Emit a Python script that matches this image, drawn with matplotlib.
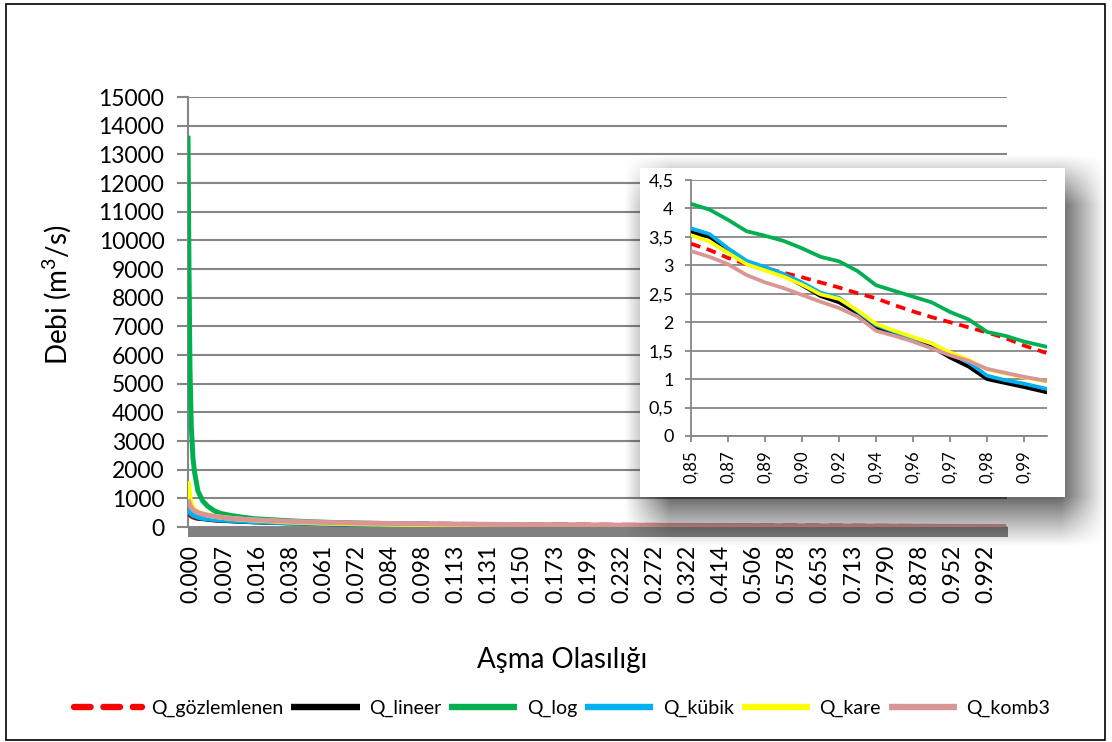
import numpy as np
import matplotlib
matplotlib.use("Agg")
import matplotlib.pyplot as plt
from matplotlib.patches import Rectangle

plt.rcParams['font.family'] = ['Lato', 'DejaVu Sans']
plt.rcParams['mathtext.default'] = 'regular'

# ---- main chart data (x = category position in label intervals) ----
main_pos = [0, 0.03, 0.06, 0.1, 0.15, 0.2, 0.3, 0.45, 0.6, 0.8, 1.0, 1.3, 1.6, 2,
            3, 4, 5, 6, 8, 10, 12, 14, 16, 18, 20, 22, 24.7]
q_gozlem = [520, 470, 420, 380, 350, 330, 300, 280, 265, 250, 240, 225, 210, 195,
            165, 140, 125, 110, 95, 80, 68, 55, 45, 36, 28, 20, 10]
q_lineer = [600, 520, 470, 430, 390, 360, 320, 290, 270, 250, 235, 215, 200, 180,
            145, 120, 100, 85, 65, 50, 40, 30, 22, 15, 10, 6, 2]
q_log = [13650, 9000, 5500, 3500, 2400, 1900, 1250, 900, 720, 560, 470, 400, 350, 290,
         220, 170, 140, 120, 90, 70, 55, 40, 30, 20, 15, 10, 4]
q_kubik = [650, 560, 500, 450, 410, 380, 340, 305, 280, 260, 245, 225, 205, 185,
           150, 122, 102, 88, 68, 52, 42, 32, 23, 16, 11, 7, 2]
q_kare = [1600, 1350, 1000, 800, 680, 600, 520, 460, 410, 370, 340, 300, 270, 240,
          180, 140, 115, 100, 75, 60, 45, 35, 25, 18, 12, 8, 3]
q_komb3 = [950, 850, 760, 680, 600, 560, 500, 450, 410, 370, 340, 300, 275, 250,
           200, 165, 140, 125, 100, 85, 72, 60, 50, 40, 32, 25, 15]
main_labels = ["0.000", "0.007", "0.016", "0.038", "0.061", "0.072", "0.084", "0.098",
               "0.113", "0.131", "0.150", "0.173", "0.199", "0.232", "0.272", "0.322",
               "0.414", "0.506", "0.578", "0.653", "0.713", "0.790", "0.878", "0.952",
               "0.992"]

# ---- inset data (x = position in label intervals, 0,85 ... 0,99) ----
ins_pos = [0, 0.5, 1, 1.5, 2, 2.5, 3, 3.5, 4, 4.5, 5, 5.5, 6, 6.5, 7, 7.5, 8, 8.5, 9, 9.6]
ins_gozlem = [3.38, 3.27, 3.13, 3.02, 2.95, 2.87, 2.79, 2.70, 2.61, 2.51, 2.42, 2.30,
              2.19, 2.09, 2.00, 1.91, 1.82, 1.72, 1.59, 1.46]
ins_lineer = [3.58, 3.50, 3.27, 3.05, 2.93, 2.82, 2.65, 2.46, 2.35, 2.16, 1.91, 1.80,
              1.68, 1.57, 1.38, 1.22, 1.00, 0.93, 0.86, 0.77]
ins_log = [4.08, 3.98, 3.80, 3.60, 3.52, 3.43, 3.30, 3.15, 3.07, 2.90, 2.65, 2.55,
           2.45, 2.35, 2.18, 2.05, 1.83, 1.76, 1.66, 1.57]
ins_kubik = [3.65, 3.55, 3.30, 3.08, 2.97, 2.85, 2.70, 2.52, 2.43, 2.19, 1.95, 1.83,
             1.72, 1.63, 1.44, 1.30, 1.06, 0.98, 0.92, 0.83]
ins_kare = [3.53, 3.42, 3.22, 3.02, 2.91, 2.80, 2.66, 2.49, 2.41, 2.21, 1.97, 1.85,
            1.74, 1.63, 1.47, 1.34, 1.17, 1.10, 1.03, 0.96]
ins_komb3 = [3.25, 3.15, 3.02, 2.83, 2.70, 2.60, 2.48, 2.36, 2.25, 2.10, 1.85, 1.76,
             1.66, 1.54, 1.42, 1.32, 1.18, 1.11, 1.04, 0.97]
ins_labels = ["0,85", "0,87", "0,89", "0,90", "0,92", "0,94", "0,96", "0,97", "0,98", "0,99"]
ins_yticks = [0, 0.5, 1, 1.5, 2, 2.5, 3, 3.5, 4, 4.5]
ins_ylabels = ["0", "0,5", "1", "1,5", "2", "2,5", "3", "3,5", "4", "4,5"]

names = ["Q_gözlemlenen", "Q_lineer", "Q_log", "Q_kübik", "Q_kare", "Q_komb3"]
colors = ["#FF0000", "#000000", "#00B050", "#00B0F0", "#FFFF00", "#D99694"]
GRID = "#868686"
W, H = 1112, 742

fig = plt.figure(figsize=(W / 100, H / 100), dpi=100)

# ---- main axes ----
ax = fig.add_axes([188 / W, 1 - 527 / H, 819 / W, 430 / H], zorder=1)
main_series = [q_gozlem, q_lineer, q_log, q_kubik, q_kare, q_komb3]
for name, vals, c in zip(names, main_series, colors):
    if name == "Q_gözlemlenen":
        ax.plot(main_pos, vals, color=c, lw=3.6, linestyle=(0, (2.6, 2.0)),
                dash_capstyle='round', label=name, zorder=3)
    else:
        ax.plot(main_pos, vals, color=c, lw=3.6, label=name, zorder=3,
                solid_capstyle='butt')
ax.set_xlim(0, 24.74)
ax.set_ylim(0, 15000)
ax.set_yticks(range(0, 15001, 1000))
ax.set_xticks(np.arange(len(main_labels)) + 0.1)
ax.set_xticklabels(main_labels, rotation=90)
ax.yaxis.grid(True, color=GRID, lw=1.5)
ax.set_axisbelow(True)
for s in ["top", "right", "bottom"]:
    ax.spines[s].set_visible(False)
ax.spines["left"].set_color(GRID)
ax.spines["left"].set_linewidth(1.5)
ax.tick_params(axis='y', length=8, width=1.5, color=GRID, pad=9, labelsize=16.5)
ax.tick_params(axis='x', length=0, pad=13, labelsize=16.5)
ax.add_patch(Rectangle((0, -10 / 430), 1.001, 10 / 430, transform=ax.transAxes,
                       color="#808080", clip_on=False, zorder=2, lw=0))

fig.text(57 / W, 1 - 295 / H, "Debi (m$^3$/s)", rotation=90, ha='center', va='center',
         fontsize=20)
fig.text(562 / W, 1 - 660 / H, "Aşma Olasılığı", ha='center', va='center', fontsize=20)

handles, labels = ax.get_legend_handles_labels()
leg = fig.legend(handles, labels, loc='center', bbox_to_anchor=(562 / W, 1 - 708 / H),
                 ncol=6, frameon=False, fontsize=14, handlelength=3.5,
                 handletextpad=0.5, columnspacing=0.4)
for ln in leg.get_lines():
    ln.set_linewidth(4.6)

# ---- inset shadow ----
yy, xx = np.mgrid[0:H, 0:W] + 0.5
alpha = (np.clip((xx - 625) / 45, 0, 1) * np.clip((1106 - xx) / 45, 0, 1)
         * np.clip((yy - 155) / 50, 0, 1) * np.clip((546 - yy) / 50, 0, 1)) * 0.6
img = np.zeros((H, W, 4))
img[..., 3] = alpha
sax = fig.add_axes([0, 0, 1, 1], zorder=2)
sax.imshow(img, extent=(0, W, H, 0), interpolation='bilinear')
sax.set_xlim(0, W)
sax.set_ylim(H, 0)
sax.axis('off')

bax = fig.add_axes([640 / W, 1 - 497 / H, 425 / W, 329 / H], zorder=3)
bax.set_facecolor("white")
bax.set_xticks([])
bax.set_yticks([])
for s in bax.spines.values():
    s.set_visible(False)

# ---- inset axes ----
iax = fig.add_axes([691 / W, 1 - 436 / H, 356 / W, 256 / H], zorder=4)
ins_series = [ins_gozlem, ins_lineer, ins_log, ins_kubik, ins_kare, ins_komb3]
for name, vals, c in zip(names, ins_series, colors):
    if name == "Q_gözlemlenen":
        iax.plot(ins_pos, vals, color=c, lw=2.7, linestyle=(0, (2.6, 1.8)),
                 dash_capstyle='butt', zorder=3)
    else:
        iax.plot(ins_pos, vals, color=c, lw=2.7, zorder=3)
iax.set_xlim(0, 9.62)
iax.set_ylim(0, 4.5)
iax.set_yticks(ins_yticks)
iax.set_yticklabels(ins_ylabels)
iax.set_xticks(range(len(ins_labels)))
iax.set_xticklabels(ins_labels, rotation=90)
iax.yaxis.grid(True, color=GRID, lw=1.3)
iax.set_axisbelow(True)
for s in ["top", "right"]:
    iax.spines[s].set_visible(False)
for s in ["left", "bottom"]:
    iax.spines[s].set_color(GRID)
    iax.spines[s].set_linewidth(1.3)
iax.tick_params(axis='both', length=4.5, width=1.3, color=GRID, labelsize=13)
iax.tick_params(axis='y', pad=8)
iax.tick_params(axis='x', pad=6, labelsize=12)

# outer border
fig.add_artist(Rectangle((6 / W, 2 / H), 1099 / W, 736 / H, transform=fig.transFigure,
                         fill=False, ec="black", lw=1.2, zorder=10))

fig.savefig("out.png", dpi=100, facecolor="white")
